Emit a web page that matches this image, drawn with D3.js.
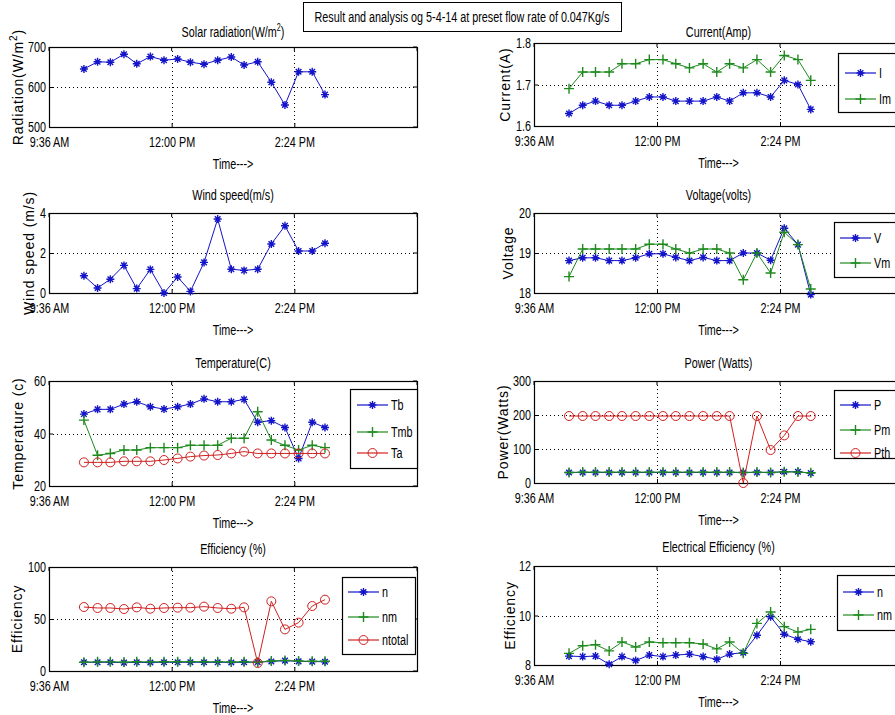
<!DOCTYPE html>
<html>
<head>
<meta charset="UTF-8">
<title>Result and analysis</title>
<script src="https://d3js.org/d3.v7.min.js"></script>
<style>
  body { margin: 0; background: #fff; }
  svg { display: block; }
  text { fill: #000; }
  .narrow { font-family: "Liberation Sans", Arial, sans-serif; font-size: 15px; }
  .ylab { font-family: "Liberation Sans", Arial, sans-serif; font-size: 14px; letter-spacing: 0.9px; }
  .grid { stroke: #000; stroke-width: 1; stroke-dasharray: 1,3; }
</style>
</head>
<body>
<svg width="895" height="715"></svg>
<script>
const times = ["10:17","10:33","10:48","11:04","11:19","11:35","11:51","12:07","12:22","12:38",
               "12:54","13:10","13:25","13:41","13:57","14:13","14:29","14:45","15:00"];
const xTicks = ["09:36","12:00","14:24","16:48"];
const xTickLabels = ["9:36 AM","12:00 PM","2:24 PM",""];

const solar = [645,663,662,682,658,676,667,670,662,657,667,675,655,663,612,555,638,638,581];
const wind  = [0.86,0.25,0.69,1.38,0.22,1.18,0.0,0.8,0.08,1.53,3.7,1.19,1.13,1.19,2.45,3.36,2.1,2.1,2.49];
const Tb  = [47.4,49.2,49.2,51.2,52.1,50.2,49.3,50.2,51.2,53.2,52.1,52.1,53.0,44.3,44.9,42.3,30.5,44.3,42.3];
const Tmb = [45.1,31.7,32.4,33.7,33.7,34.6,34.6,34.6,35.5,35.5,35.5,38.2,38.2,48.3,37.5,35.5,33.7,35.5,34.6];
const Ta  = [29.0,29.0,29.0,29.4,29.4,29.4,29.9,30.5,31.2,31.6,31.8,32.4,33.1,32.4,32.4,32.4,32.4,32.4,32.4];
const effN     = [8.36,8.34,8.36,8.03,8.34,8.18,8.40,8.34,8.40,8.44,8.34,8.23,8.44,8.50,9.20,9.95,9.24,9.04,8.94];
const effNm    = [8.47,8.78,8.82,8.57,8.93,8.73,8.93,8.90,8.90,8.90,8.85,8.65,8.93,8.47,9.68,10.14,9.55,9.33,9.44];
const effTotal = [61.5,60.6,60.6,59.6,61.2,59.9,60.6,60.9,60.9,61.9,60.6,59.9,61.2,7.7,67.0,40.0,46.5,62.5,68.6];
const I  = [1.63,1.65,1.66,1.65,1.65,1.66,1.67,1.67,1.66,1.66,1.66,1.67,1.66,1.68,1.68,1.67,1.71,1.70,1.64];
const Im = [1.69,1.73,1.73,1.73,1.75,1.75,1.76,1.76,1.75,1.74,1.75,1.73,1.75,1.74,1.76,1.73,1.77,1.76,1.71];
const V  = [18.81,18.88,18.88,18.81,18.81,18.88,18.98,18.98,18.89,18.81,18.89,18.81,18.81,19.0,19.0,18.82,19.62,19.21,17.96];
const Vm = [18.41,19.1,19.1,19.1,19.1,19.1,19.22,19.22,19.1,19.0,19.1,19.1,19.0,18.33,19.0,18.5,19.52,19.21,18.1];
const P   = [31,31,31,31,31,31,31,31,31,31,31,31,31,31,31,31,33,33,29];
const Pm  = [31,32,32,32,32,32,32,32,32,32,32,32,32,31,32,31,33,32,30];
const Pth = [197,197,197,197,197,197,197,197,197,197,197,197,197,0,197,97,140,197,197];

const headerText = "Result and analysis og 5-4-14 at preset flow rate of 0.047Kg/s";

const BLUE = "#1414c8", GREEN = "#1e8a1e", RED = "#d02020";
const SQUEEZE = 0.72;   // the original figure is squashed horizontally
const parseT = d3.timeParse("%H:%M");

const panels = [
  {title: ["Solar radiation(W/m", "2", ")"], ylabel: ["Radiation(W/m", "2", ")"], yDomain: [500,700], yTicks: [500,600,700],
   series: [{values: solar, color: BLUE, marker: "star"}],
   box: {x: 49, y: 47, w: 368, h: 80}, titleY: 37, ylabX: 18},
  {title: ["Wind speed(m/s)"], ylabel: ["Wind speed (m/s)"], yDomain: [0,4], yTicks: [0,2,4],
   series: [{values: wind, color: BLUE, marker: "star"}],
   box: {x: 49, y: 213, w: 368, h: 80}, titleY: 200, ylabX: 29},
  {title: ["Temperature(C)"], ylabel: ["Temperature (c)"], yDomain: [20,60], yTicks: [20,40,60],
   series: [{name: "Tb", values: Tb, color: BLUE, marker: "star"},
            {name: "Tmb", values: Tmb, color: GREEN, marker: "plus"},
            {name: "Ta", values: Ta, color: RED, marker: "circle"}],
   box: {x: 49, y: 381, w: 368, h: 105}, titleY: 368, ylabX: 18,
   legend: {x: 350, y: 389, w: 67, h: 79, rows: [405, 432, 453], lx: 357}},
  {title: ["Efficiency (%)"], ylabel: ["Efficiency"], yDomain: [0,100], yTicks: [0,50,100],
   series: [{name: "n", values: effN, color: BLUE, marker: "star"},
            {name: "nm", values: effNm, color: GREEN, marker: "plus"},
            {name: "ntotal", values: effTotal, color: RED, marker: "circle"}],
   box: {x: 49, y: 567, w: 368, h: 104}, titleY: 554, ylabX: 17,
   legend: {x: 342, y: 577, w: 73, h: 77, rows: [592, 617, 640], lx: 348}},
  {title: ["Current(Amp)"], ylabel: ["Current(A)"], yDomain: [1.6,1.8], yTicks: [1.6,1.7,1.8],
   series: [{name: "I", values: I, color: BLUE, marker: "star"},
            {name: "Im", values: Im, color: GREEN, marker: "plus"}],
   box: {x: 534, y: 43, w: 369, h: 83}, titleY: 37, ylabX: 505,
   legend: {x: 838, y: 53, w: 70, h: 59, rows: [73, 99], lx: 845}},
  {title: ["Voltage(volts)"], ylabel: ["Voltage"], yDomain: [18,20], yTicks: [18,19,20],
   series: [{name: "V", values: V, color: BLUE, marker: "star"},
            {name: "Vm", values: Vm, color: GREEN, marker: "plus"}],
   box: {x: 534, y: 213, w: 369, h: 80}, titleY: 200, ylabX: 508,
   legend: {x: 834, y: 222, w: 70, h: 55, rows: [238, 263], lx: 840}},
  {title: ["Power (Watts)"], ylabel: ["Power(Watts)"], yDomain: [0,300], yTicks: [0,100,200,300],
   series: [{name: "P", values: P, color: BLUE, marker: "star"},
            {name: "Pm", values: Pm, color: GREEN, marker: "plus"},
            {name: "Pth", values: Pth, color: RED, marker: "circle"}],
   box: {x: 534, y: 381, w: 369, h: 102}, titleY: 368, ylabX: 503,
   legend: {x: 834, y: 390, w: 70, h: 68, rows: [405, 430, 453], lx: 840}},
  {title: ["Electrical Efficiency (%)"], ylabel: ["Efficiency"], yDomain: [8,12], yTicks: [8,10,12],
   series: [{name: "n", values: effN, color: BLUE, marker: "star"},
            {name: "nm", values: effNm, color: GREEN, marker: "plus"}],
   box: {x: 534, y: 566, w: 369, h: 99}, titleY: 552, ylabX: 510,
   legend: {x: 837, y: 575, w: 70, h: 55, rows: [592, 615], lx: 843}}
];

const svg = d3.select("svg");

// move x/y into a transform so the text can be narrowed horizontally
function squeeze(sel) {
  sel.each(function() {
    const t = d3.select(this);
    const x = +t.attr("x") || 0, y = +t.attr("y") || 0;
    t.attr("x", 0).attr("y", 0).attr("transform", `translate(${x},${y}) scale(${SQUEEZE},1)`);
  });
}

// header box
const hdr = svg.append("g");
hdr.append("rect").attr("x", 303.5).attr("y", 2.5).attr("width", 318).attr("height", 29)
  .attr("fill", "#fff").attr("stroke", "#000");
hdr.append("text").attr("class", "narrow").attr("x", 462).attr("y", 22)
  .attr("text-anchor", "middle").text(headerText).call(squeeze);

function markerPath(type) {
  if (type === "star") return "M-4,0L4,0M0,-4L0,4M-2.8,-2.8L2.8,2.8M-2.8,2.8L2.8,-2.8";
  if (type === "plus") return "M-5,0L5,0M0,-5L0,5";
  return null;
}

function drawMarkers(g, pts, s) {
  if (s.marker === "circle") {
    g.selectAll(null).data(pts).join("circle")
      .attr("cx", d => d[0]).attr("cy", d => d[1]).attr("r", 4.5)
      .attr("fill", "none").attr("stroke", s.color).attr("stroke-width", 1);
  } else {
    g.selectAll(null).data(pts).join("path")
      .attr("transform", d => `translate(${d[0]},${d[1]})`)
      .attr("d", markerPath(s.marker))
      .attr("fill", "none").attr("stroke", s.color).attr("stroke-width", 1.4);
  }
}

function addSuperText(sel, parts) {
  sel.append("tspan").text(parts[0]);
  if (parts.length > 1) {
    sel.append("tspan").attr("dy", -6).attr("font-size", "10px").text(parts[1]);
    sel.append("tspan").attr("dy", 6).text(parts[2]);
  }
}

panels.forEach(p => {
  const b = p.box;
  const g = svg.append("g");
  const x = d3.scaleTime()
    .domain([parseT(xTicks[0]), parseT(xTicks[xTicks.length - 1])])
    .range([b.x, b.x + b.w]);
  const y = d3.scaleLinear().domain(p.yDomain).range([b.y + b.h, b.y]);

  // white axes background
  g.append("rect").attr("x", b.x).attr("y", b.y).attr("width", b.w).attr("height", b.h).attr("fill", "#fff");

  // dotted grid at interior ticks
  g.selectAll(null).data(xTicks.slice(1, -1)).join("line").attr("class", "grid")
    .attr("x1", d => Math.round(x(parseT(d))) + 0.5).attr("x2", d => Math.round(x(parseT(d))) + 0.5)
    .attr("y1", b.y).attr("y2", b.y + b.h);
  g.selectAll(null).data(p.yTicks.slice(1, -1)).join("line").attr("class", "grid")
    .attr("y1", d => Math.round(y(d)) + 0.5).attr("y2", d => Math.round(y(d)) + 0.5)
    .attr("x1", b.x).attr("x2", b.x + b.w);

  // axes
  const xAxis = d3.axisBottom(x).tickValues(xTicks.map(parseT))
    .tickFormat((d, i) => xTickLabels[i]).tickSizeInner(-4).tickSizeOuter(0).tickPadding(9);
  const xa = g.append("g").attr("transform", `translate(0,${b.y + b.h})`).call(xAxis);
  const yAxis = d3.axisLeft(y).tickValues(p.yTicks).tickFormat(d3.format("~g"))
    .tickSizeInner(-4).tickSizeOuter(0).tickPadding(3);
  const ya = g.append("g").attr("transform", `translate(${b.x},0)`).call(yAxis);
  [xa, ya].forEach(a => {
    a.attr("font-family", null).attr("font-size", null);
    a.select(".domain").remove();
    a.selectAll("text").attr("class", "narrow").call(squeeze);
    a.selectAll("line").attr("stroke", "#000");
  });
  // mirrored ticks on top/right
  g.selectAll(null).data(xTicks.map(parseT)).join("line")
    .attr("x1", d => x(d)).attr("x2", d => x(d)).attr("y1", b.y).attr("y2", b.y + 4).attr("stroke", "#000");
  g.selectAll(null).data(p.yTicks).join("line")
    .attr("y1", d => y(d)).attr("y2", d => y(d)).attr("x1", b.x + b.w).attr("x2", b.x + b.w - 4).attr("stroke", "#000");
  g.append("rect").attr("x", b.x + 0.5).attr("y", b.y + 0.5).attr("width", b.w).attr("height", b.h)
    .attr("fill", "none").attr("stroke", "#000").attr("stroke-width", 1.2);

  // series
  const line = d3.line().x(d => d[0]).y(d => d[1]);
  p.series.forEach(s => {
    const pts = s.values.map((v, i) => [x(parseT(times[i])), y(v)]);
    g.append("path").attr("d", line(pts)).attr("fill", "none").attr("stroke", s.color).attr("stroke-width", 1);
    drawMarkers(g.append("g"), pts, s);
  });

  // title, labels
  const t = g.append("text").attr("class", "narrow").attr("x", b.x + b.w / 2).attr("y", p.titleY)
    .attr("text-anchor", "middle");
  addSuperText(t, p.title);
  t.call(squeeze);
  g.append("text").attr("class", "narrow").attr("x", b.x + b.w / 2).attr("y", b.y + b.h + 42)
    .attr("text-anchor", "middle").text("Time--->").call(squeeze);
  const yl = g.append("text").attr("class", "ylab")
    .attr("transform", `translate(${p.ylabX},${b.y + b.h / 2}) rotate(-90)`)
    .attr("text-anchor", "middle").attr("dy", "0.35em");
  addSuperText(yl, p.ylabel);

  // legend
  if (p.legend) {
    const L = p.legend;
    const lg = g.append("g");
    lg.append("rect").attr("x", L.x + 0.5).attr("y", L.y + 0.5).attr("width", L.w).attr("height", L.h)
      .attr("fill", "#fff").attr("stroke", "#000").attr("stroke-width", 1.2);
    p.series.forEach((s, i) => {
      const ry = L.rows[i];
      lg.append("line").attr("x1", L.lx).attr("x2", L.lx + 31).attr("y1", ry).attr("y2", ry)
        .attr("stroke", s.color).attr("stroke-width", 1.2);
      drawMarkers(lg.append("g"), [[L.lx + 15.5, ry]], s);
      lg.append("text").attr("class", "narrow").attr("x", L.lx + 34).attr("y", ry + 5).text(s.name).call(squeeze);
    });
  }
});
</script>
</body>
</html>
